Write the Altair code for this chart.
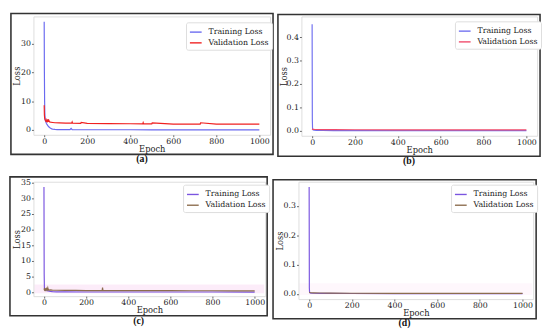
import altair as alt
import pandas as pd

series_names = ["Training Loss", "Validation Loss"]
panel_labels = ["(a)", "(b)", "(c)", "(d)"]
x_ticks = [0, 200, 400, 600, 800, 1000]

# ---- panel (a)
a_train_ep = [0, 1, 2, 3, 4, 5, 7, 10, 13, 16, 20, 25, 30, 35, 40, 50, 60, 80, 100, 120, 125, 130, 150, 200, 300, 400, 500, 600, 700, 800, 900, 1000]
a_train = [37.7, 20.0, 10.0, 6.0, 4.5, 3.6, 2.9, 2.3, 1.9, 1.6, 1.2, 0.85, 0.55, 0.38, 0.27, 0.17, 0.13, 0.11, 0.09, 0.08, 0.55, 0.08, 0.07, 0.06, 0.05, 0.05, 0.04, 0.04, 0.04, 0.03, 0.03, 0.03]
a_val_ep = [0, 1, 2, 3, 5, 8, 10, 12, 15, 18, 20, 22, 25, 30, 40, 50, 70, 100, 128, 130, 132, 170, 172, 200, 300, 400, 458, 460, 462, 500, 502, 600, 700, 725, 727, 800, 900, 1000]
a_val = [8.6, 5.2, 4.3, 3.8, 3.4, 3.0, 2.9, 3.5, 3.0, 3.7, 2.8, 3.3, 2.8, 2.7, 2.6, 2.5, 2.45, 2.4, 2.4, 2.8, 2.35, 2.3, 2.6, 2.3, 2.2, 2.15, 2.1, 2.55, 2.1, 2.1, 2.45, 2.05, 2.05, 2.05, 2.5, 2.0, 2.0, 2.0]

# ---- panel (b)
b_train_ep = [0, 1, 2, 3, 5, 10, 20, 50, 100, 200, 400, 600, 800, 1000]
b_train = [0.455, 0.05, 0.012, 0.006, 0.004, 0.003, 0.002, 0.0015, 0.0012, 0.001, 0.0009, 0.0008, 0.0008, 0.0007]
b_val_ep = [0, 1, 2, 5, 10, 20, 50, 100, 200, 400, 600, 800, 1000]
b_val = [0.009, 0.008, 0.007, 0.0065, 0.006, 0.0058, 0.0055, 0.005, 0.0048, 0.0045, 0.0043, 0.0042, 0.004]

# ---- panel (c)
c_train_ep = [0, 1, 2, 3, 5, 10, 20, 30, 40, 60, 100, 200, 400, 600, 800, 1000]
c_train = [33.5, 6.0, 1.5, 0.9, 0.7, 0.55, 0.45, 0.3, 0.2, 0.15, 0.12, 0.1, 0.09, 0.08, 0.08, 0.07]
c_val_ep = [0, 2, 4, 6, 8, 10, 12, 15, 18, 20, 22, 25, 30, 40, 60, 100, 150, 200, 276, 278, 280, 300, 400, 500, 600, 700, 800, 900, 1000]
c_val = [1.2, 0.8, 1.1, 0.7, 1.0, 0.75, 1.2, 0.8, 1.4, 0.7, 0.9, 0.7, 0.75, 0.7, 0.65, 0.6, 0.6, 0.55, 0.55, 1.5, 0.55, 0.55, 0.5, 0.5, 0.5, 0.48, 0.48, 0.47, 0.47]
c_band_ep = [-45, 1045]
c_band_lo = [-0.3, -0.3]
c_band_hi = [2.5, 2.5]

# ---- panel (d)
d_train_ep = [0, 1, 2, 3, 5, 10, 20, 50, 100, 200, 400, 600, 800, 1000]
d_train = [0.365, 0.02, 0.006, 0.004, 0.003, 0.0025, 0.002, 0.0018, 0.0015, 0.0012, 0.001, 0.0009, 0.0008, 0.0008]
d_val_ep = [0, 2, 5, 10, 20, 50, 100, 200, 400, 600, 800, 1000]
d_val = [0.005, 0.0045, 0.004, 0.0038, 0.0035, 0.003, 0.0025, 0.002, 0.0018, 0.0016, 0.0015, 0.0015]
d_band_ep = [-45, 1045]
d_band_lo = [-0.004, -0.004]
d_band_hi = [0.036, 0.036]

LABEL_FONT = "DejaVu Serif"


def make_df(tr_ep, tr, va_ep, va):
    rows = [{"epoch": e, "loss": v, "series": series_names[0], "k": 0} for e, v in zip(tr_ep, tr)]
    rows += [{"epoch": e, "loss": v, "series": series_names[1], "k": 1} for e, v in zip(va_ep, va)]
    return pd.DataFrame(rows)


def panel(df, label, ydom, yticks, yfmt, colors, w, h, box, ytx, leg, band=None, band_op=0.3):
    axis_common = dict(grid=False, domain=False, tickColor="#666", tickSize=2,
                       labelFont=LABEL_FONT, labelFontSize=8, labelColor="#222",
                       titleFont=LABEL_FONT, titleFontSize=8.5, titleFontWeight="normal",
                       titleColor="#222", titleBaseline="middle", titleAlign="center")
    xscale = alt.Scale(domain=[-50, 1050], nice=False, zero=False)
    yscale = alt.Scale(domain=ydom, nice=False, zero=False)
    xaxis = alt.Axis(values=x_ticks, format="d", title="Epoch", labelPadding=0.5,
                     titleX=w / 2, titleY=14, **axis_common)
    yaxis = alt.Axis(values=yticks, format=yfmt, title="Loss", labelPadding=1,
                     titleX=ytx, titleY=h / 2, titleAngle=270, **axis_common)
    lines = alt.Chart(df).mark_line(strokeWidth=1.2, clip=True).encode(
        x=alt.X("epoch:Q", scale=xscale, axis=xaxis),
        y=alt.Y("loss:Q", scale=yscale, axis=yaxis),
        color=alt.Color("series:N", scale=alt.Scale(domain=series_names, range=colors),
                        legend=alt.Legend(title=None, orient="none", legendX=leg[0], legendY=leg[1], padding=3,
                                          symbolType="stroke", symbolSize=144, symbolStrokeWidth=1.4,
                                          labelFont=LABEL_FONT, labelFontSize=8, labelColor="#222",
                                          rowPadding=0, fillColor="white", strokeColor="#ddd",
                                          cornerRadius=2, labelOffset=6)),
        order="k:Q",
        detail="series:N",
    )
    layers = []
    if band is not None:
        bdf = pd.DataFrame({"epoch": band[0], "lo": band[1], "hi": band[2]})
        layers.append(alt.Chart(bdf).mark_area(color="#f5c0ea", opacity=band_op, clip=True).encode(
            x=alt.X("epoch:Q", scale=xscale, axis=xaxis),
            y=alt.Y("lo:Q", scale=yscale, axis=yaxis),
            y2="hi:Q"))
    layers.append(lines)
    one = pd.DataFrame({"z": [0]})
    frame = alt.Chart(one).mark_rect(filled=False, stroke="#333", strokeWidth=1.6, clip=False).encode(
        x=alt.value(box[0]), x2=alt.value(w + box[1]), y=alt.value(box[2]), y2=alt.value(h + box[3])
    )
    lab = alt.Chart(one).mark_text(font="Liberation Serif", fontSize=10, fontWeight="bold",
                                   color="#111", clip=False, baseline="middle").encode(
        x=alt.value((box[0] + w + box[1]) / 2), y=alt.value(h + box[3] + 5), text=alt.value(label)
    )
    layers += [frame, lab]
    return alt.layer(*layers).properties(width=w, height=h)


pa = panel(make_df(a_train_ep, a_train, a_val_ep, a_val), panel_labels[0], [-1.7, 39.55], [0, 10, 20, 30], "d",
           ["#6a6af0", "#f02020"], 242, 121, (-23, 3, -3, 20), -17, (156, 6))
pb = panel(make_df(b_train_ep, b_train, b_val_ep, b_val), panel_labels[1], [-0.021, 0.488], [0, 0.1, 0.2, 0.3, 0.4], ".1f",
           ["#7070f0", "#f04a6a"], 241, 122, (-24, 3, -2, 21), -18.5, (157, 5))
pc = panel(make_df(c_train_ep, c_train, c_val_ep, c_val), panel_labels[2], [-1.24, 35.2], [0, 5, 10, 15, 20, 25, 30, 35], "d",
           ["#7a55e0", "#8c6d4e"], 237, 117, (-24, 2, -5, 20), -17, (153, 3),
           band=(c_band_ep, c_band_lo, c_band_hi), band_op=0.3)
pd_ = panel(make_df(d_train_ep, d_train, d_val_ep, d_val), panel_labels[3], [-0.018, 0.383], [0, 0.1, 0.2, 0.3], ".1f",
            ["#7a55e0", "#8c6d4e"], 240, 120, (-26, 3, -2, 20), -19, (156, 3),
            band=(d_band_ep, d_band_lo, d_band_hi), band_op=0.12)

top = alt.hconcat(pa, pb, spacing=1).resolve_scale(color="independent", x="independent", y="independent")
bottom = alt.hconcat(pc, pd_, spacing=1).resolve_scale(color="independent", x="independent", y="independent")
chart = alt.vconcat(top, bottom, spacing=8).resolve_scale(color="independent", x="independent", y="independent").properties(
    padding=0
).configure_view(stroke="#bbb", strokeWidth=1).configure(background="white")

chart.save("out.html", embed_options={"renderer": "svg", "actions": False})
